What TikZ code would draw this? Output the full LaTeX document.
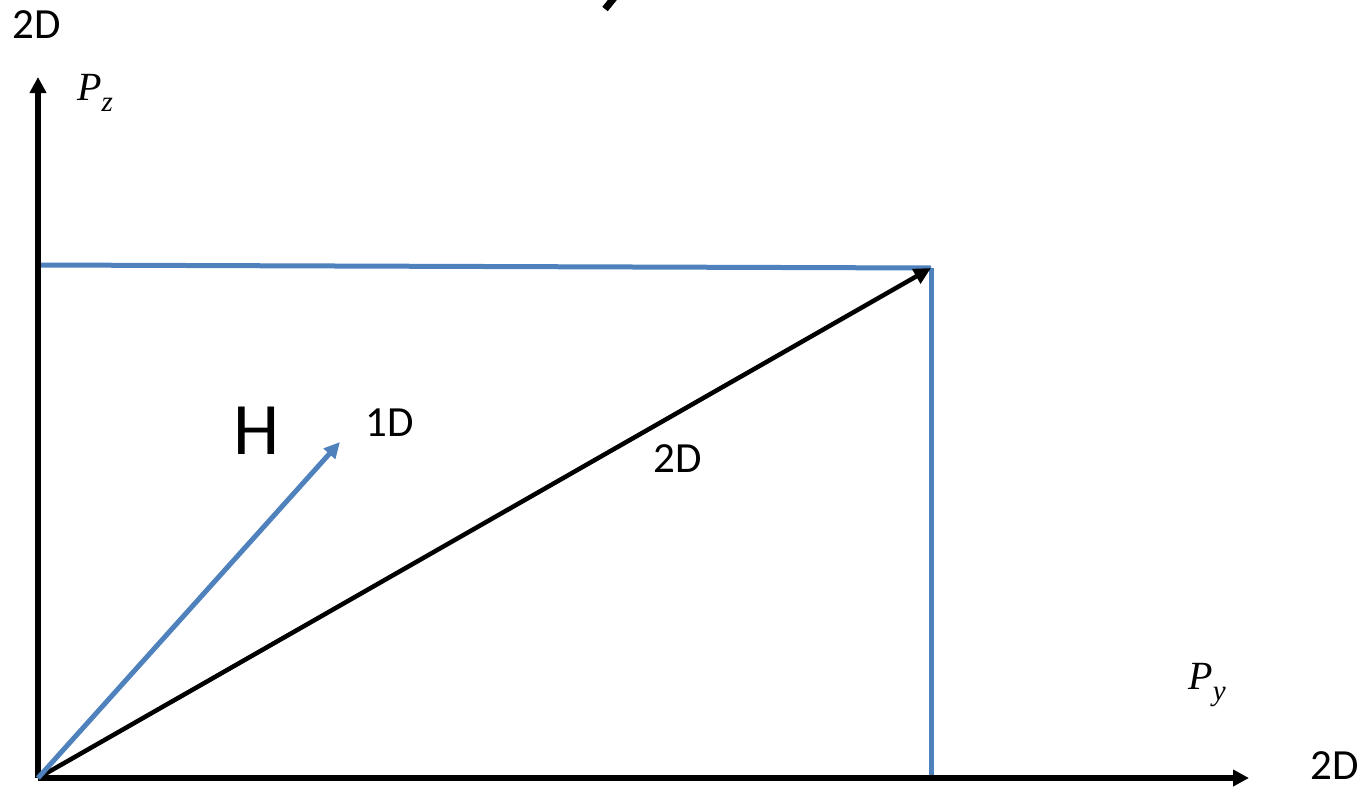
\documentclass[tikz,border=0pt]{standalone}
\usepackage{fontspec}
\setmainfont{Carlito}
\newfontfamily\mathitf{Liberation Serif}[UprightFont=* Italic]
\usetikzlibrary{arrows.meta}
\definecolor{lblue}{RGB}{79,129,189}
\newcommand{\varlbl}[2]{{\mathitf\fontsize{40}{44}\selectfont #1\raisebox{-0.28em}{\fontsize{29}{32}\selectfont #2}}}
\begin{document}
\begin{tikzpicture}[x=1pt,y=-1pt,
  axis/.style={line width=5.5pt,-{Triangle[length=16pt,width=16pt]}},
  bline/.style={line width=5pt,color=lblue},
  lbl/.style={inner sep=0pt,font=\fontsize{43}{48}\selectfont}]
\useasboundingbox (0,0) rectangle (1369,790);
\coordinate (O) at (38,778);
\coordinate (ytop) at (38,77);
\coordinate (xend) at (1249,778);
\coordinate (A) at (931,268);
\coordinate (Htop) at (38,265);
\coordinate (Abase) at (931,778);
\coordinate (B) at (340,442);
% blue projection lines
\draw[bline] (Htop) -- (A);
\draw[bline] (A) -- (Abase);
% axes
\draw[axis] (O) -- (ytop);
\draw[axis] (O) -- (xend);
% vectors
\draw[line width=4.5pt,-{Triangle[length=17pt,width=16pt]}] (O) -- (A);
\draw[line width=5pt,color=lblue,-{Triangle[length=16pt,width=15pt]}] (O) -- (B);
% labels
\node[lbl] (l2dtop) at (37,25) {2D};
\node[inner sep=0pt] (pz) at (95,93) {\varlbl{P}{z}};
\node[inner sep=0pt] (py) at (1207,685) {\varlbl{P}{y}};
\node[lbl] (l2dright) at (1335,766) {2D};
\node[lbl] (l2dmid) at (678,459) {2D};
\node[lbl] (l1d) at (390,423) {1D};
\node[inner sep=0pt,font=\fontsize{74}{80}\selectfont] (H) at (257,431) {H};
% cut-off fragment at top
\draw[line width=7pt] (614,-2) -- (605,9);
\end{tikzpicture}
\end{document}
